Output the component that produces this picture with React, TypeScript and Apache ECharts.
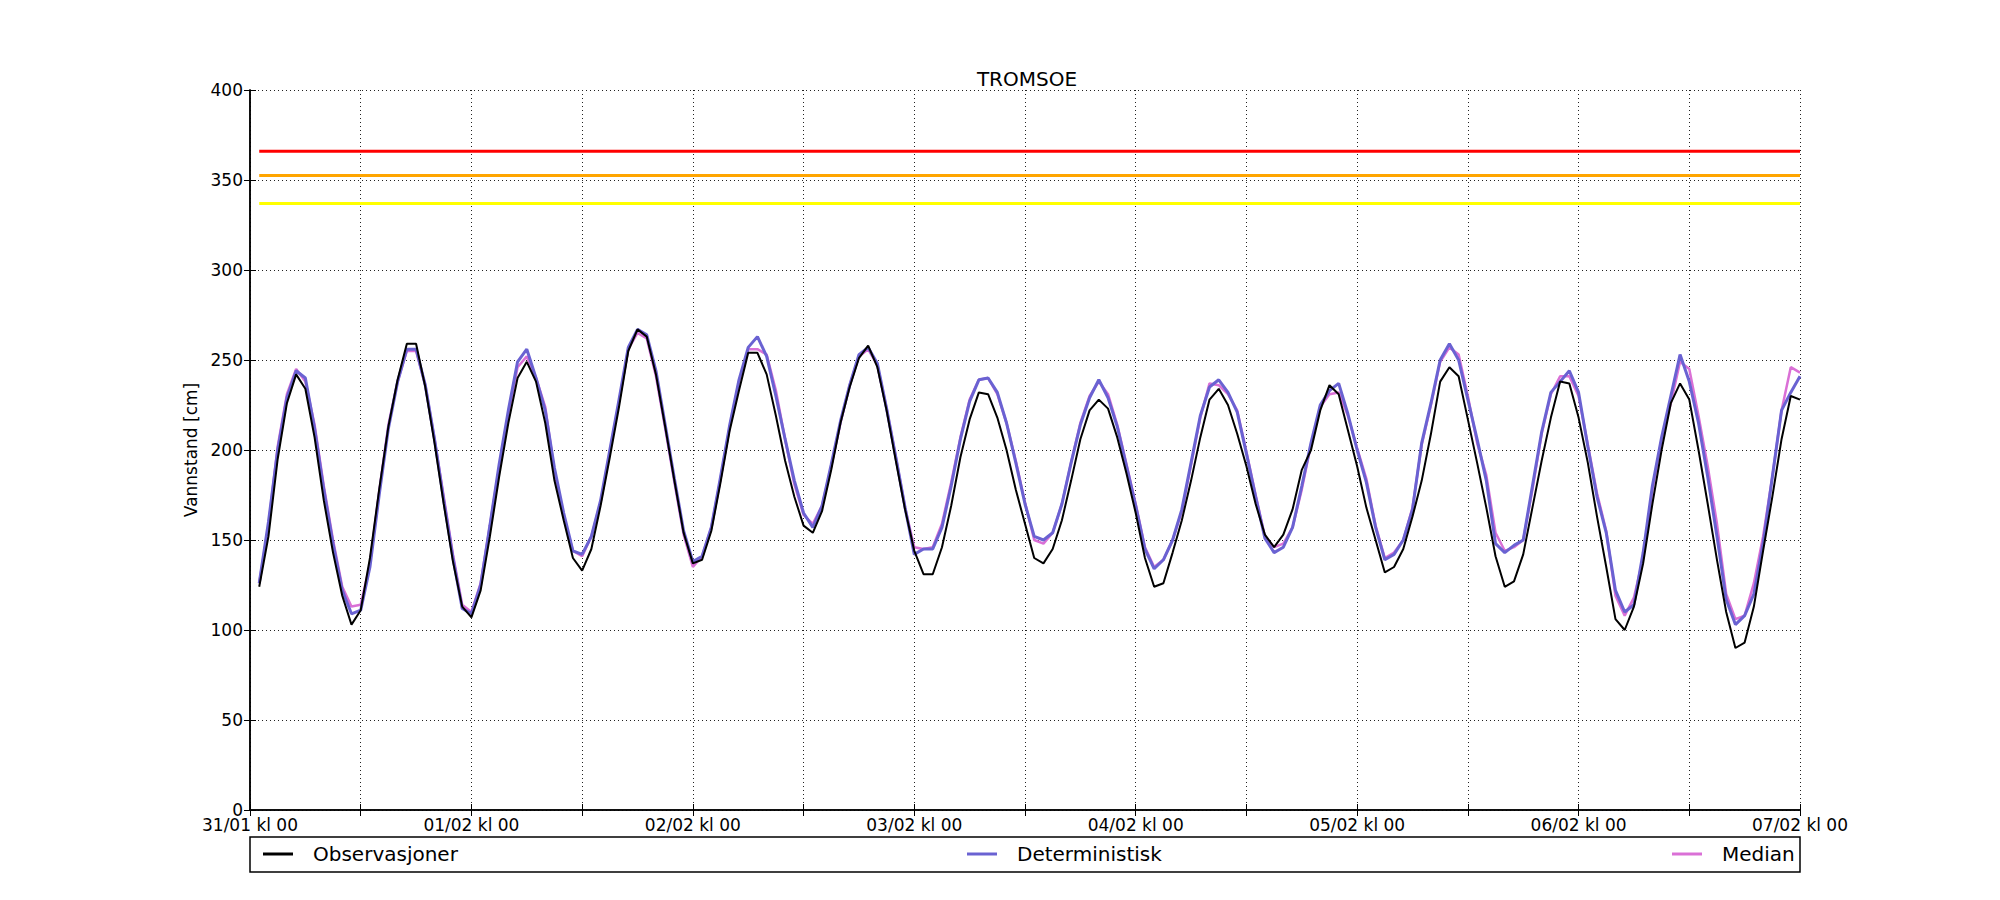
import React, { useEffect, useRef } from "react";
import * as echarts from "echarts";

// Hourly values, 31/01 kl 01 .. 07/02 kl 00 (hour index 1..168)
const START_HOUR = 1;

const observasjoner = [
  124, 152, 195, 226, 242, 234, 207, 172, 143, 119, 103, 111, 140, 178, 213, 239, 259, 259, 235, 204, 170, 138, 113, 107,
  122, 152, 185, 215, 240, 249, 238, 215, 183, 161, 140, 133, 145, 169, 196, 224, 255, 267, 263, 242, 213, 183, 154, 137,
  139, 155, 182, 211, 233, 254, 254, 242, 219, 194, 174, 158, 154, 166, 189, 215, 235, 251, 258, 246, 222, 194, 167, 144,
  131, 131, 146, 169, 196, 217, 232, 231, 218, 200, 178, 159, 140, 137, 145, 161, 183, 206, 222, 228, 223, 207, 187, 165,
  140, 124, 126, 143, 161, 183, 207, 228, 234, 225, 209, 191, 170, 153, 146, 153, 167, 189, 200, 222, 236, 231, 211, 191,
  168, 150, 132, 135, 145, 163, 183, 209, 238, 246, 241, 217, 193, 168, 141, 124, 127, 142, 168, 194, 218, 238, 237, 218,
  193, 163, 135, 106, 100, 113, 137, 170, 200, 226, 237, 228, 200, 170, 139, 110, 90, 93, 113, 144, 174, 206, 230, 228,
];

const deterministisk = [
  126, 160, 200, 229, 244, 240, 212, 178, 148, 122, 109, 111, 135, 175, 212, 238, 256, 256, 236, 206, 172, 140, 112, 109,
  125, 158, 192, 222, 249, 256, 240, 222, 190, 165, 144, 142, 152, 172, 200, 228, 257, 267, 264, 244, 214, 184, 155, 138,
  141, 157, 185, 214, 239, 257, 263, 252, 230, 206, 183, 165, 157, 169, 192, 216, 236, 253, 257, 248, 223, 196, 168, 142,
  145, 145, 157, 180, 206, 227, 239, 240, 232, 215, 193, 170, 152, 150, 154, 170, 193, 214, 229, 239, 229, 213, 191, 169,
  145, 134, 139, 150, 167, 193, 219, 235, 239, 232, 221, 198, 174, 151, 143, 146, 157, 180, 204, 225, 233, 237, 220, 200,
  182, 157, 139, 142, 150, 167, 204, 226, 250, 259, 250, 228, 206, 183, 148, 143, 147, 150, 180, 210, 232, 238, 244, 232,
  202, 174, 154, 122, 110, 114, 143, 180, 207, 230, 253, 238, 215, 185, 152, 117, 103, 108, 120, 148, 185, 222, 232, 241,
];

const median = [
  126, 158, 202, 231, 245, 238, 214, 180, 150, 124, 113, 114, 137, 177, 214, 238, 255, 255, 236, 206, 174, 142, 114, 110,
  126, 158, 190, 220, 246, 252, 240, 224, 188, 163, 144, 141, 152, 171, 199, 227, 256, 265, 262, 241, 212, 182, 153, 135,
  141, 157, 184, 213, 238, 256, 256, 253, 233, 206, 181, 164, 159, 169, 191, 215, 236, 252, 256, 247, 223, 196, 168, 146,
  145, 146, 159, 182, 207, 228, 239, 240, 231, 215, 194, 171, 150, 148, 154, 170, 193, 215, 230, 238, 231, 214, 192, 170,
  146, 135, 139, 150, 166, 192, 218, 237, 236, 231, 222, 199, 175, 152, 146, 148, 157, 178, 203, 224, 231, 232, 219, 201,
  184, 158, 140, 143, 150, 168, 203, 225, 249, 257, 253, 230, 204, 186, 154, 144, 146, 150, 178, 209, 231, 241, 241, 230,
  203, 176, 155, 119, 108, 118, 140, 178, 206, 226, 249, 245, 219, 191, 159, 120, 106, 108, 126, 152, 185, 222, 246, 243,
];

// Warning levels [cm]
const thresholdNames = ["Rød", "Oransje", "Gul"];
const thresholdValues = [366, 352.5, 337];
const thresholdColors = ["#ff0000", "#ffa500", "#ffff00"];

const xTickLabels = [
  "31/01 kl 00",
  "01/02 kl 00",
  "02/02 kl 00",
  "03/02 kl 00",
  "04/02 kl 00",
  "05/02 kl 00",
  "06/02 kl 00",
  "07/02 kl 00",
];

const FONT = "DejaVu Sans";

const toPairs = (arr: number[]) => arr.map((v, i) => [i + START_HOUR, v]);

export default function App() {
  const ref = useRef<HTMLDivElement>(null);

  useEffect(() => {
    if (!ref.current) return;
    const chart = echarts.init(ref.current, undefined, { renderer: "svg" });
    const lastHour = START_HOUR + observasjoner.length - 1;

    const axisLine = { show: true, lineStyle: { color: "#000", width: 1.5 } };
    const tick = { show: true, inside: true, length: 6, lineStyle: { color: "#000", width: 1 } };
    const split = { show: true, lineStyle: { color: "#222", width: 1, type: [1, 3] as any } };

    const legendBase = {
      orient: "horizontal",
      top: 843,
      padding: 0,
      icon: "rect",
      itemWidth: 30,
      itemHeight: 3,
      textStyle: { fontFamily: FONT, fontSize: 20, color: "#000", padding: [0, 0, 0, 15], lineHeight: 22 },
      selectedMode: false,
    };

    const option: any = {
      animation: false,
      backgroundColor: "#fff",
      title: {
        text: "TROMSOE",
        left: 1022,
        top: 64,
        textAlign: "center",
        textStyle: { fontFamily: FONT, fontSize: 20, fontWeight: "normal", color: "#000" },
      },
      legend: [
        { ...legendBase, left: 263, data: ["Observasjoner"] },
        { ...legendBase, left: 967, data: ["Deterministisk"] },
        { ...legendBase, left: 1672, data: ["Median"] },
      ],
      graphic: [
        {
          type: "rect",
          shape: { x: 250, y: 837, width: 1550, height: 35 },
          style: { fill: "none", stroke: "#000", lineWidth: 1.5 },
          silent: true,
        },
      ],
      grid: { left: 250, top: 90, width: 1550, height: 720, containLabel: false },
      xAxis: [
        {
          type: "value",
          min: 0,
          max: 168,
          interval: 12,
          position: "bottom",
          axisLine,
          axisTick: tick,
          splitLine: split,
          axisLabel: {
            show: true,
            margin: 6,
            fontFamily: FONT,
            fontSize: 17,
            color: "#000",
            showMinLabel: true,
            showMaxLabel: true,
            formatter: (v: number) => (v % 24 === 0 ? xTickLabels[v / 24] : ""),
          },
        },
        {
          type: "value",
          min: 0,
          max: 168,
          interval: 12,
          position: "top",
          axisLine,
          axisTick: tick,
          splitLine: { show: false },
          axisLabel: { show: false },
        },
      ],
      yAxis: [
        {
          type: "value",
          min: 0,
          max: 400,
          interval: 50,
          position: "left",
          name: "Vannstand [cm]",
          nameLocation: "middle",
          nameRotate: 90,
          nameGap: 46,
          nameTextStyle: { fontFamily: FONT, fontSize: 17, color: "#000" },
          axisLine,
          axisTick: tick,
          splitLine: split,
          axisLabel: { fontFamily: FONT, fontSize: 17, color: "#000", margin: 7 },
        },
        {
          type: "value",
          min: 0,
          max: 400,
          interval: 50,
          position: "right",
          axisLine,
          axisTick: tick,
          splitLine: { show: false },
          axisLabel: { show: false },
        },
      ],
      series: [
        ...thresholdValues.map((v, i) => ({
          name: thresholdNames[i],
          type: "line",
          data: [
            [START_HOUR, v],
            [lastHour, v],
          ],
          showSymbol: false,
          symbol: "none",
          lineStyle: { color: thresholdColors[i], width: 3 },
          itemStyle: { color: thresholdColors[i] },
          silent: true,
        })),
        {
          name: "Median",
          type: "line",
          data: toPairs(median),
          symbol: "none",
          lineStyle: { color: "#da70d6", width: 2.5 },
          itemStyle: { color: "#da70d6" },
        },
        {
          name: "Deterministisk",
          type: "line",
          data: toPairs(deterministisk),
          symbol: "none",
          lineStyle: { color: "#6a62d2", width: 3 },
          itemStyle: { color: "#6a62d2" },
        },
        {
          name: "Observasjoner",
          type: "line",
          data: toPairs(observasjoner),
          symbol: "none",
          lineStyle: { color: "#000000", width: 2 },
          itemStyle: { color: "#000000" },
        },
      ],
    };

    chart.setOption(option);
    return () => chart.dispose();
  }, []);

  return (
    <div
      ref={ref}
      style={{ position: "absolute", left: 0, top: 0, width: 2000, height: 900, background: "#fff" }}
    />
  );
}
